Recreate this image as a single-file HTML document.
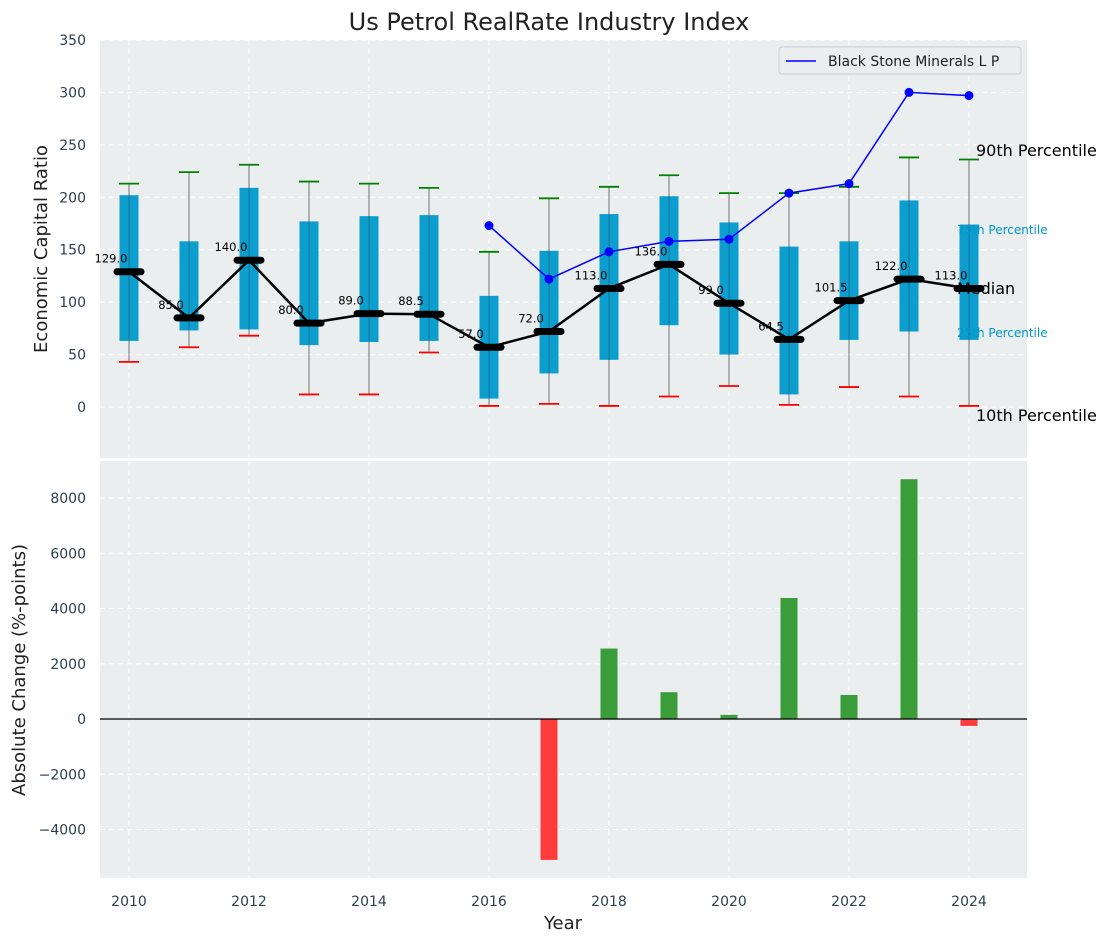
<!DOCTYPE html>
<html><head><meta charset="utf-8"><style>
body{margin:0;background:#fff;font-family:"Liberation Sans","DejaVu Sans",sans-serif}
</style></head><body>
<svg id="c" width="1111" height="942" xmlns="http://www.w3.org/2000/svg" font-family="DejaVu Sans, Liberation Sans, sans-serif">
<text x="549" y="30" font-size="24" text-anchor="middle" fill="#222">Us Petrol RealRate Industry Index</text>
<g id="topg"></g><g id="botg"></g>
</svg>
<script>
const years=[2010,2011,2012,2013,2014,2015,2016,2017,2018,2019,2020,2021,2022,2023,2024];
const p10=[43,57,68,12,12,52,1,3,1,10,20,2,19,10,1];
const q1=[63,73,74,59,62,63,8,32,45,78,50,12,64,72,64];
const med=[129,85,140,80,89,88.5,57,72,113,136,99,64.5,101.5,122,113];
const q3=[202,158,209,177,182,183,106,149,184,201,176,153,158,197,174];
const p90=[213,224,231,215,213,209,148,199,210,221,204,204,210,238,236];
const lineYears=[2016,2017,2018,2019,2020,2021,2022,2023,2024];
const lineVals=[173,122,148,158,160,204,213,300,297];
const chgYears=[2017,2018,2019,2020,2021,2022,2023,2024];
const chgVals=[-5100,2550,970,150,4380,870,8680,-250];
const yTicksTop=[0,50,100,150,200,250,300,350];
const yTicksBot=[-4000,-2000,0,2000,4000,6000,8000];
const xTicks=[2010,2012,2014,2016,2018,2020,2022,2024];

const NS='http://www.w3.org/2000/svg';
function el(p,t,a,txt){const e=document.createElementNS(NS,t);for(const k in a)e.setAttribute(k,a[k]);if(txt!==undefined)e.textContent=txt;p.appendChild(e);return e;}
const X=y=>129+(y-2010)*60;
const YT=v=>407-v*(367/350);
const YB=v=>719-v*(221/8000);
const L=100,R=1027;
const topG=document.getElementById('topg'),botG=document.getElementById('botg');
const svg=document.getElementById('c');

let bg=el(topG,'rect',{x:L,y:40,width:R-L,height:418,fill:'#eaeeef'});

let bg2=el(botG,'rect',{x:L,y:461,width:R-L,height:417,fill:'#eaeeef'});


xTicks.forEach(t=>{
  el(topG,'line',{x1:X(t),x2:X(t),y1:40,y2:458,stroke:'#fff','stroke-dasharray':'5,4','stroke-width':1});
  el(botG,'line',{x1:X(t),x2:X(t),y1:461,y2:878,stroke:'#fff','stroke-dasharray':'5,4','stroke-width':1});
  const tx=el(svg,'text',{x:X(t),y:906,'font-size':14,'text-anchor':'middle',fill:'#2d3e50'},t);
  
});
yTicksTop.forEach(t=>{
  el(topG,'line',{x1:L,x2:R,y1:YT(t),y2:YT(t),stroke:'#fff','stroke-dasharray':'5,4'});
  const tx=el(topG,'text',{x:86,y:YT(t)+5,'font-size':14,'text-anchor':'end',fill:'#2d3e50'},t);
  
});
yTicksBot.forEach(t=>{
  el(botG,'line',{x1:L,x2:R,y1:YB(t),y2:YB(t),stroke:'#fff','stroke-dasharray':'5,4'});
  const tx=el(botG,'text',{x:86,y:YB(t)+5,'font-size':14,'text-anchor':'end',fill:'#2d3e50'},t===0?'0':(t<0?'\u2212'+(-t):t));
  
});

years.forEach((y,i)=>{
  const x=X(y);
  const g=el(topG,'g',{});
  
  el(g,'line',{x1:x,x2:x,y1:YT(p10[i]),y2:YT(p90[i]),stroke:'#888','stroke-width':1.2});
  el(g,'rect',{x:x-9.5,y:YT(q3[i]),width:19,height:YT(q1[i])-YT(q3[i]),fill:'#0099cc',opacity:0.95});
  el(g,'line',{x1:x,x2:x,y1:YT(q1[i]),y2:YT(q3[i]),stroke:'#333','stroke-width':1,opacity:0.35});
  el(g,'line',{x1:x-10,x2:x+10,y1:YT(p90[i]),y2:YT(p90[i]),stroke:'green','stroke-width':1.8});
  el(g,'line',{x1:x-10,x2:x+10,y1:YT(p10[i]),y2:YT(p10[i]),stroke:'red','stroke-width':1.8});
});
let mp=el(topG,'polyline',{points:years.map((y,i)=>X(y)+','+YT(med[i])).join(' '),fill:'none',stroke:'#000','stroke-width':2.5});

years.forEach((y,i)=>{
  const m=el(topG,'line',{x1:X(y)-12,x2:X(y)+12,y1:YT(med[i]),y2:YT(med[i]),stroke:'#000','stroke-width':7,'stroke-linecap':'round'});
  
  const t=el(topG,'text',{x:X(y)-18,y:YT(med[i])-9,'font-size':11.5,'text-anchor':'middle',fill:'#000'},med[i].toFixed(1));
  
});
let cl=el(topG,'polyline',{points:lineYears.map((y,i)=>X(y)+','+YT(lineVals[i])).join(' '),fill:'none',stroke:'blue','stroke-width':1.5});

lineYears.forEach((y,i)=>{
  const c=el(topG,'circle',{cx:X(y),cy:YT(lineVals[i]),r:4.5,fill:'blue'});
  
});
const ann=[[976,156,'90th Percentile','#000',16,'label-90th'],[957,234,'75th Percentile','#0099cc',12,'label-75th'],[957,294,'Median','#000',16,'label-median'],[957,337,'25th Percentile','#0099cc',12,'label-25th'],[976,421,'10th Percentile','#000',16,'label-10th']];
ann.forEach(a=>{const t=el(svg,'text',{x:a[0],y:a[1],'font-size':a[4],fill:a[3]},a[2]);});
const lg=el(topG,'g',{});

el(lg,'rect',{x:779,y:47,width:242,height:27,rx:3,fill:'#eaeeef',stroke:'#ccc'});
el(lg,'line',{x1:786,x2:816,y1:61,y2:61,stroke:'blue','stroke-width':1.5});
el(lg,'text',{x:828,y:66,'font-size':14,fill:'#222'},'Black Stone Minerals L P');

chgYears.forEach((y,i)=>{
  const v=chgVals[i];
  const b=el(botG,'rect',{x:X(y)-8.5,y:Math.min(YB(v),YB(0)),width:17,height:Math.abs(YB(v)-YB(0)),fill:v>=0?'#3a9d3a':'#ff3c3c'});
  
});
let zl=el(botG,'line',{x1:L,x2:R,y1:YB(0),y2:YB(0),stroke:'#000','stroke-width':1.2});


let t1=el(svg,'text',{x:47,y:249,'font-size':18,'text-anchor':'middle',fill:'#222',transform:'rotate(-90 47 249)'},'Economic Capital Ratio');

let t2=el(svg,'text',{x:25,y:670,'font-size':18,'text-anchor':'middle',fill:'#222',transform:'rotate(-90 25 670)'},'Absolute Change (%-points)');

let t3=el(svg,'text',{x:563,y:929,'font-size':18,'text-anchor':'middle',fill:'#222'},'Year');

</script>
</body></html>
